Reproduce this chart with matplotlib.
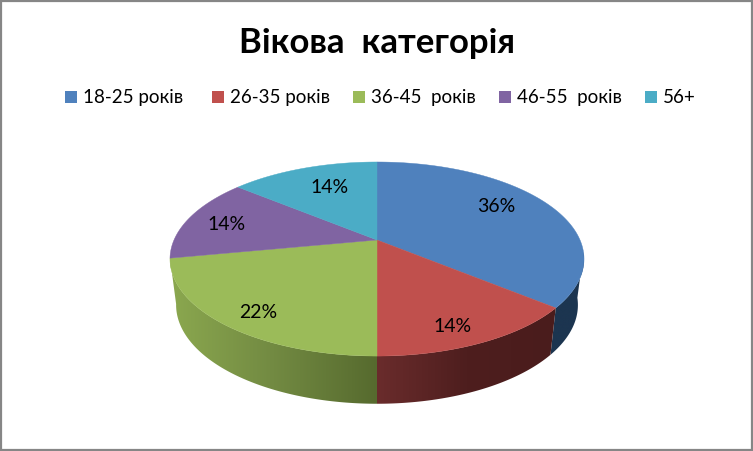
"""Pie chart with a perspective 3D look, age categories."""

import numpy as np
import matplotlib
matplotlib.use("Agg")
import matplotlib.pyplot as plt
from matplotlib.colors import to_rgb
from matplotlib.patches import Polygon, Rectangle

plt.rcParams['font.family'] = ['Lato', 'Noto Sans', 'DejaVu Sans']

TITLE = "Вікова  категорія"
categories = ["18-25 років", "26-35 років", "36-45  років", "46-55  років", "56+"]
shares = [36, 14, 22, 14, 14]

COLORS = ["#4f81bd", "#c0504d", "#9bbb59", "#8064a2", "#4bacc6"]
# side wall colours per slice, left / middle / right of the visible part
SIDE_COLORS = [("#1c3550", "#1c3550", "#1c3550"),
               ("#6a2c2c", "#4e1e1e", "#4a1c1c"),
               ("#8ba84f", "#728a42", "#566a2e"),
               None, None]
LEGEND_X = [65, 212, 353, 499, 645]
LABEL_SHIFT = [(-2, -7), (6, 19), (-18, 16), (-17, 0), (6, 0)]

# projection of the unit disc to pixels: (cx, cy, bx, ay, k)
TOP_RIM = (377, 240, 203, 93.3, 0.196)
BOTTOM_RIM = (377, 285.6, 197, 95, 0.196)
# part of the rim (as fraction of the full turn) where the wall shows
WALL_FROM, WALL_TO = 0.27, 0.72


def project(rim, x, y):
    cx, cy, bx, ay, k = rim
    w = 1 + k * y
    return cx + bx * x / w, cy - ay * y / w


def rim_point(rim, frac):
    ang = 2 * np.pi * frac
    return project(rim, np.sin(ang), np.cos(ang))


fig = plt.figure(figsize=(7.53, 4.51), dpi=100)
ax = fig.add_axes([0, 0, 1, 1])

ax.add_patch(Rectangle((1, 1), 751, 449, fill=False, edgecolor="#868686", linewidth=1.6))

ends = np.cumsum(shares) / np.sum(shares)
starts = np.concatenate([[0], ends[:-1]])

# side wall: a horizontal gradient clipped to the wall shape
for i in range(len(shares)):
    lo = max(starts[i], WALL_FROM)
    hi = min(ends[i], WALL_TO)
    if hi <= lo or SIDE_COLORS[i] is None:
        continue
    fracs = np.linspace(lo, hi, 100)
    xt, yt = rim_point(TOP_RIM, fracs)
    xb, yb = rim_point(BOTTOM_RIM, fracs)
    px = np.concatenate([xt, xb[::-1]])
    py = np.concatenate([yt, yb[::-1]])
    stops = np.array([to_rgb(c) for c in SIDE_COLORS[i]])
    pos = np.linspace(0, 1, 256)
    grad = np.stack([np.interp(pos, [0, 0.5, 1], stops[:, c]) for c in range(3)], axis=-1)
    im = ax.imshow(grad[np.newaxis, :, :], extent=(px.min(), px.max(), py.max(), py.min()),
                   aspect='auto', interpolation='bilinear', zorder=2)
    clip = Polygon(np.column_stack([px, py]), closed=True, transform=ax.transData)
    im.set_clip_path(clip)

# top face
for i in range(len(shares)):
    fracs = np.linspace(starts[i], ends[i], 200)
    xs, ys = rim_point(TOP_RIM, fracs)
    xs = np.concatenate([[TOP_RIM[0]], xs])
    ys = np.concatenate([[TOP_RIM[1]], ys])
    ax.fill(xs, ys, color=COLORS[i], linewidth=0.3, zorder=3)

    mid = (starts[i] + ends[i]) / 2
    ang = 2 * np.pi * mid
    lx, ly = project(TOP_RIM, 0.7 * np.sin(ang), 0.7 * np.cos(ang))
    ax.text(lx + LABEL_SHIFT[i][0], ly + LABEL_SHIFT[i][1], f"{shares[i]}%",
            ha='center', va='center', fontsize=14, color='black', zorder=4)

ax.text(377, 43, TITLE, ha='center', va='center', fontsize=25, fontweight='bold', color='black')

for i, name in enumerate(categories):
    ax.add_patch(Rectangle((LEGEND_X[i], 91), 12, 12, facecolor=COLORS[i], edgecolor='none'))
    ax.text(LEGEND_X[i] + 18, 103, name, ha='left', va='baseline', fontsize=13.5, color='black')

ax.set_xlim(0, 753)
ax.set_ylim(451, 0)
ax.axis('off')

fig.savefig("out.png", dpi=100)
